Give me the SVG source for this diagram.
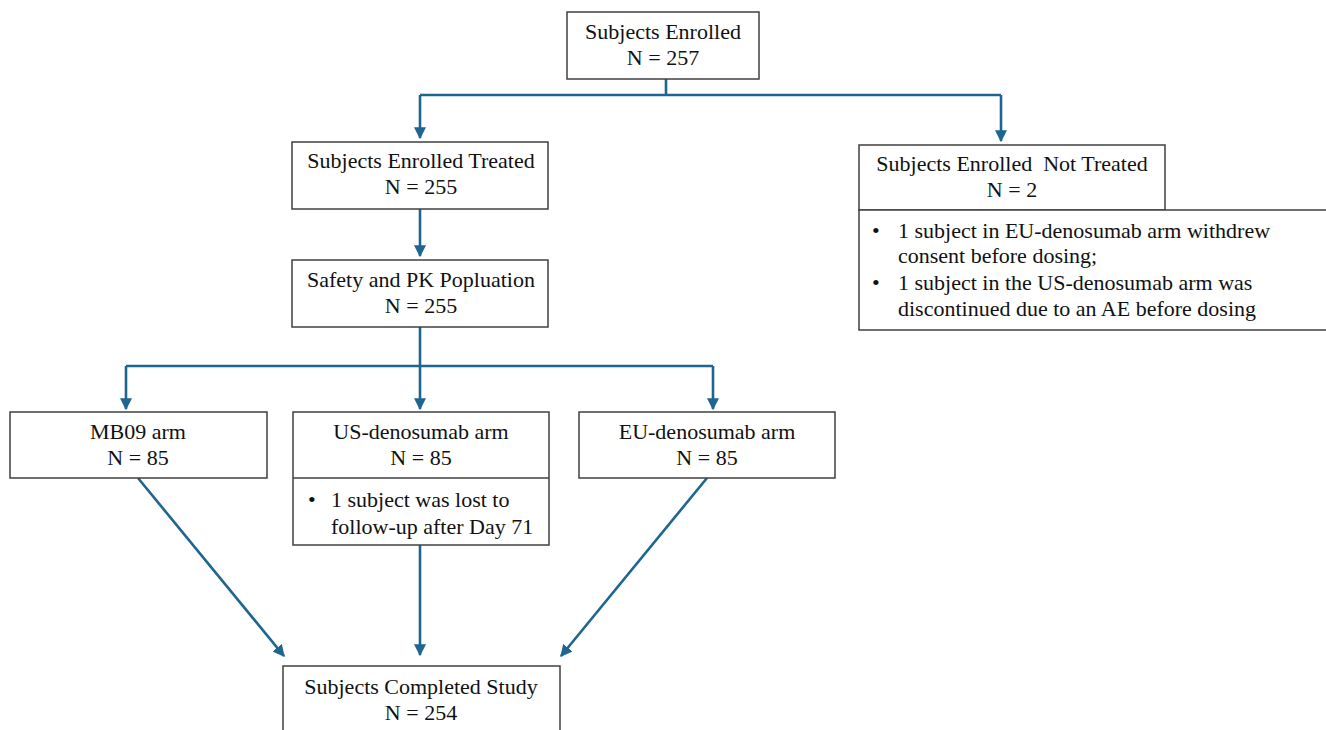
<svg xmlns="http://www.w3.org/2000/svg" width="1326" height="730" viewBox="0 0 1326 730">
<defs>
<marker id="ah" viewBox="0 0 10 10" refX="9" refY="5" markerWidth="4.6" markerHeight="4.6" orient="auto" markerUnits="strokeWidth">
<path d="M0,0 L10,5 L0,10 z" fill="#1e6590"/>
</marker>
<style>
.box{fill:#fff;stroke:#404040;stroke-width:1.5}
.t{font-family:"Liberation Serif","Times New Roman",serif;font-size:22px;fill:#111}
.c{text-anchor:middle}
.ln{fill:none;stroke:#1e6590;stroke-width:2.6}
.arr{fill:none;stroke:#1e6590;stroke-width:2.6;marker-end:url(#ah)}
</style>
</defs>
<rect width="1326" height="730" fill="#fff"/>
<g id="connectors">
<path class="ln" d="M666,79 V95 M420,95 H1001"/>
<path class="arr" d="M420,95 V138"/>
<path class="arr" d="M1001,95 V141"/>
<path class="arr" d="M420,209 V256"/>
<path class="ln" d="M420,327 V366 M126,366 H713"/>
<path class="arr" d="M126,366 V409"/>
<path class="arr" d="M420,366 V409"/>
<path class="arr" d="M713,366 V409"/>
<path class="arr" d="M138,478 L284,656"/>
<path class="arr" d="M420,545 V655"/>
<path class="arr" d="M707,478 L561,656"/>
</g>
<g id="n-enrolled">
<rect class="box" x="567" y="12" width="192" height="67"/>
<text class="t c" x="663" y="39">Subjects Enrolled</text>
<text class="t c" x="663" y="65">N = 257</text>
</g>
<g id="n-treated">
<rect class="box" x="292" y="142" width="256" height="67"/>
<text class="t c" x="421" y="168">Subjects Enrolled Treated</text>
<text class="t c" x="421" y="194">N = 255</text>
</g>
<g id="n-safety">
<rect class="box" x="292" y="260" width="256" height="67"/>
<text class="t c" x="421" y="287">Safety and PK Popluation</text>
<text class="t c" x="421" y="313">N = 255</text>
</g>
<g id="n-nottreated">
<rect class="box" x="859" y="145" width="306" height="65"/>
<text class="t c" x="1012" y="171" xml:space="preserve">Subjects Enrolled  Not Treated</text>
<text class="t c" x="1012" y="197">N = 2</text>
<rect class="box" x="859" y="210" width="480" height="120"/>
<text class="t" x="872" y="238">•</text>
<text class="t" x="898" y="238">1 subject in EU-denosumab arm withdrew</text>
<text class="t" x="898" y="263">consent before dosing;</text>
<text class="t" x="872" y="290">•</text>
<text class="t" x="898" y="290">1 subject in the US-denosumab arm was</text>
<text class="t" x="898" y="316">discontinued due to an AE before dosing</text>
</g>
<g id="n-mb09">
<rect class="box" x="10" y="412" width="257" height="66"/>
<text class="t c" x="138" y="439">MB09 arm</text>
<text class="t c" x="138" y="465">N = 85</text>
</g>
<g id="n-us">
<rect class="box" x="293" y="412" width="256" height="133"/>
<line x1="293" y1="478" x2="549" y2="478" stroke="#404040" stroke-width="1.5"/>
<text class="t c" x="421" y="439">US-denosumab arm</text>
<text class="t c" x="421" y="465">N = 85</text>
<text class="t" x="308" y="507">•</text>
<text class="t" x="331" y="507">1 subject was lost to</text>
<text class="t" x="331" y="534">follow-up after Day 71</text>
</g>
<g id="n-eu">
<rect class="box" x="579" y="412" width="256" height="66"/>
<text class="t c" x="707" y="439">EU-denosumab arm</text>
<text class="t c" x="707" y="465">N = 85</text>
</g>
<g id="n-completed">
<rect class="box" x="283" y="666" width="277" height="80"/>
<text class="t c" x="421" y="694">Subjects Completed Study</text>
<text class="t c" x="421" y="720">N = 254</text>
</g>
</svg>
